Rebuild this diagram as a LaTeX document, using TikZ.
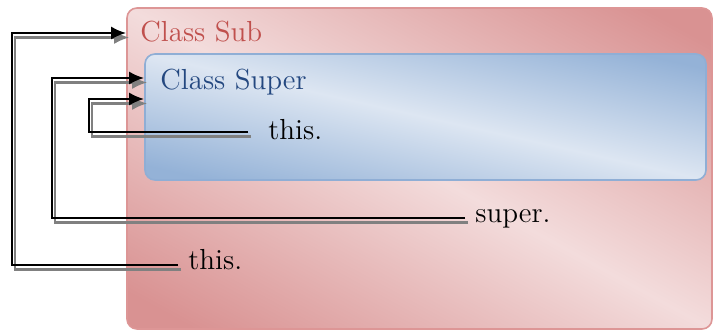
\documentclass[tikz,border=0pt]{standalone}
\usetikzlibrary{arrows.meta,calc}

\definecolor{subdark}{RGB}{217,146,146}
\definecolor{sublight}{RGB}{243,220,220}
\definecolor{subedge}{RGB}{221,150,150}
\definecolor{subtext}{RGB}{192,80,77}
\definecolor{supdark}{RGB}{148,178,215}
\definecolor{suplight}{RGB}{221,230,242}
\definecolor{supedge}{RGB}{143,174,213}
\definecolor{suptext}{RGB}{36,72,128}
\definecolor{shadowgray}{RGB}{128,128,128}

\begin{document}
\begin{tikzpicture}[x=0.5pt,y=-0.5pt,
  classbox/.style={rounded corners=5pt, line width=0.8pt, inner sep=0pt},
  subbox/.style={classbox, draw=subedge},
  supbox/.style={classbox, draw=supedge},
  lbl/.style={inner sep=0pt, anchor=base west, font=\fontsize{14.5}{17}\selectfont},
  ref/.style={line width=1.2pt, -{Latex[length=7.5pt,width=6.5pt]}},
  refshadow/.style={ref, draw=shadowgray},
]
\useasboundingbox (0,0) rectangle (714,331);

% diagonal gradient of the outer class: dark towards the top-right and
% bottom-left corners, light along the other diagonal
\begin{scope}
  \clip[rounded corners=5pt] (127,8) rectangle (712,329);
  \fill[subdark] (127,8) rectangle (712,329);
  \begin{scope}[transform canvas={shift={(209.75pt,-84.25pt)}, xscale=146.25, yscale=80.25, rotate=-45}]
    \shade[top color=subdark, bottom color=subdark, middle color=sublight]
      (-2pt,-1.25pt) rectangle (2pt,1.25pt);
  \end{scope}
\end{scope}

% same gradient for the inner class
\begin{scope}
  \clip[rounded corners=5pt] (145,54) rectangle (706,180);
  \fill[supdark] (145,54) rectangle (706,180);
  \begin{scope}[transform canvas={shift={(212.75pt,-58.5pt)}, xscale=140.25, yscale=31.5, rotate=-45}]
    \shade[top color=supdark, bottom color=supdark, middle color=suplight]
      (-2pt,-1.25pt) rectangle (2pt,1.25pt);
  \end{scope}
\end{scope}

% class boxes
\node[subbox, minimum width=292.5pt, minimum height=160.5pt] (sub) at (419.5,168.5) {};
\node[supbox, minimum width=280.5pt, minimum height=63pt] (sup) at (425.5,117) {};

% labels
\node[lbl, text=subtext] (subname) at (140,42) {Class Sub};
\node[lbl, text=suptext] (supname) at (160,90) {Class Super};
\node[lbl] (thisin) at (268,140) {this.};
\node[lbl] (superref) at (475,223) {super.};
\node[lbl] (thisout) at (188,270) {this.};

% connector ends and bends
\coordinate (thisin-end) at ($(thisin.base west)+(-20,-8)$);
\coordinate (superref-end) at ($(superref.base west)+(-10,-5)$);
\coordinate (thisout-end) at ($(thisout.base west)+(-10,-5)$);
\coordinate (thisin-bend) at (89,99);
\coordinate (superref-bend) at (52,78);
\coordinate (thisout-bend) at (12,33);

% shadows of the references
\begin{scope}[transform canvas={xshift=1.5pt,yshift=-2.25pt}]
  \draw[refshadow] (thisin-end) -| (thisin-bend) -- (sup.west |- thisin-bend);
  \draw[refshadow] (superref-end) -| (superref-bend) -- (sup.west |- superref-bend);
  \draw[refshadow] (thisout-end) -| (thisout-bend) -- (sub.west |- thisout-bend);
\end{scope}

% references
\draw[ref] (thisin-end) -| (thisin-bend) -- (sup.west |- thisin-bend);
\draw[ref] (superref-end) -| (superref-bend) -- (sup.west |- superref-bend);
\draw[ref] (thisout-end) -| (thisout-bend) -- (sub.west |- thisout-bend);
\end{tikzpicture}
\end{document}
